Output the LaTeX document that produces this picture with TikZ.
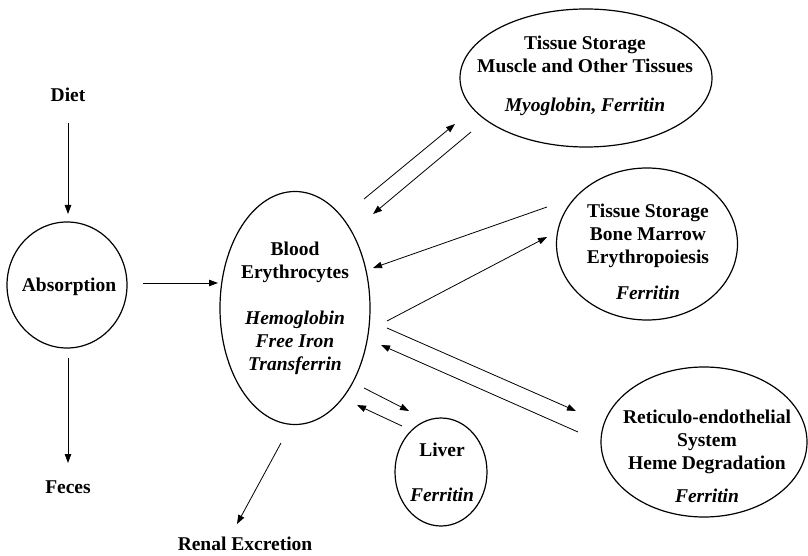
\documentclass[tikz,border=0pt]{standalone}
\usepackage{fontspec}
\setmainfont{Liberation Serif}
\usetikzlibrary{arrows.meta,shapes.geometric}
\begin{document}
\begin{tikzpicture}[x=1pt,y=-1pt,
  blob/.style={draw, line width=1.2pt, ellipse, inner sep=0pt},
  lbl/.style={font=\bfseries\fontsize{19.5}{23}\selectfont, align=center, inner sep=0pt},
  flow/.style={line width=0.8pt, -{Triangle[length=9pt,width=6.5pt]}}]
\useasboundingbox (0,0) rectangle (808,556);

% compartments
\node[blob, minimum width=120, minimum height=126] (absorb) at (67,285) {};
\node[blob, minimum width=150, minimum height=233] (blood) at (295,308) {};
\node[blob, minimum width=252, minimum height=138] (muscle) at (586,78) {};
\node[blob, minimum width=181, minimum height=152] (marrow) at (647,244) {};
\node[blob, minimum width=92, minimum height=108] (liver) at (441,472) {};
\node[blob, minimum width=206, minimum height=150] (retic) at (704,442) {};

% labels
\node[lbl] (diet) at (68,95) {Diet};
\node[lbl] (feces) at (68,487) {Feces};
\node[lbl] (renal) at (245,544) {Renal Excretion};
\node[lbl] (absorb-t) at (69,287) {Absorption};
\node[lbl] (blood-t) at (295,308) {Blood\\Erythrocytes\\[23pt]\textit{Hemoglobin}\\\textit{Free Iron}\\\textit{Transferrin}};
\node[lbl] (muscle-t) at (585,76) {Tissue Storage\\Muscle and Other Tissues\\[16pt]\textit{Myoglobin, Ferritin}};
\node[lbl] (marrow-t) at (648,252) {Tissue Storage\\Bone Marrow\\Erythropoiesis\\[13pt]\textit{Ferritin}};
\node[lbl] (retic-t) at (707,456) {Reticulo-endothelial\\System\\Heme Degradation\\[10pt]\textit{Ferritin}};
\node[lbl] (liver-t) at (442,472) {Liver\\[22pt]\textit{Ferritin}};

% arrow end points
\coordinate (dietOut) at (68,123);
\coordinate (absIn) at (68,214);
\coordinate (absDown) at (68,358);
\coordinate (fecesIn) at (68,463);
\coordinate (absRight) at (143,283);
\coordinate (bloodLeft) at (218,283);
\coordinate (bmA) at (364,199);
\coordinate (musA) at (455,124);
\coordinate (musB) at (471,132);
\coordinate (bmB) at (373,214);
\coordinate (marA) at (547,207);
\coordinate (bmC) at (373,268);
\coordinate (bmD) at (387,321);
\coordinate (marB) at (547,237);
\coordinate (bmE) at (387,328);
\coordinate (retA) at (576,411);
\coordinate (retB) at (578,432);
\coordinate (bmF) at (381,345);
\coordinate (bmG) at (364,388);
\coordinate (livA) at (409,411);
\coordinate (livB) at (402,426);
\coordinate (bmH) at (357,405);
\coordinate (bmI) at (281,443);
\coordinate (renIn) at (237,524);

% fluxes
\draw[flow] (dietOut) -- (absIn);
\draw[flow] (absDown) -- (fecesIn);
\draw[flow] (absRight) -- (bloodLeft);
\draw[flow] (bmA) -- (musA);
\draw[flow] (musB) -- (bmB);
\draw[flow] (marA) -- (bmC);
\draw[flow] (bmD) -- (marB);
\draw[flow] (bmE) -- (retA);
\draw[flow] (retB) -- (bmF);
\draw[flow] (bmG) -- (livA);
\draw[flow] (livB) -- (bmH);
\draw[flow] (bmI) -- (renIn);
\end{tikzpicture}
\end{document}
